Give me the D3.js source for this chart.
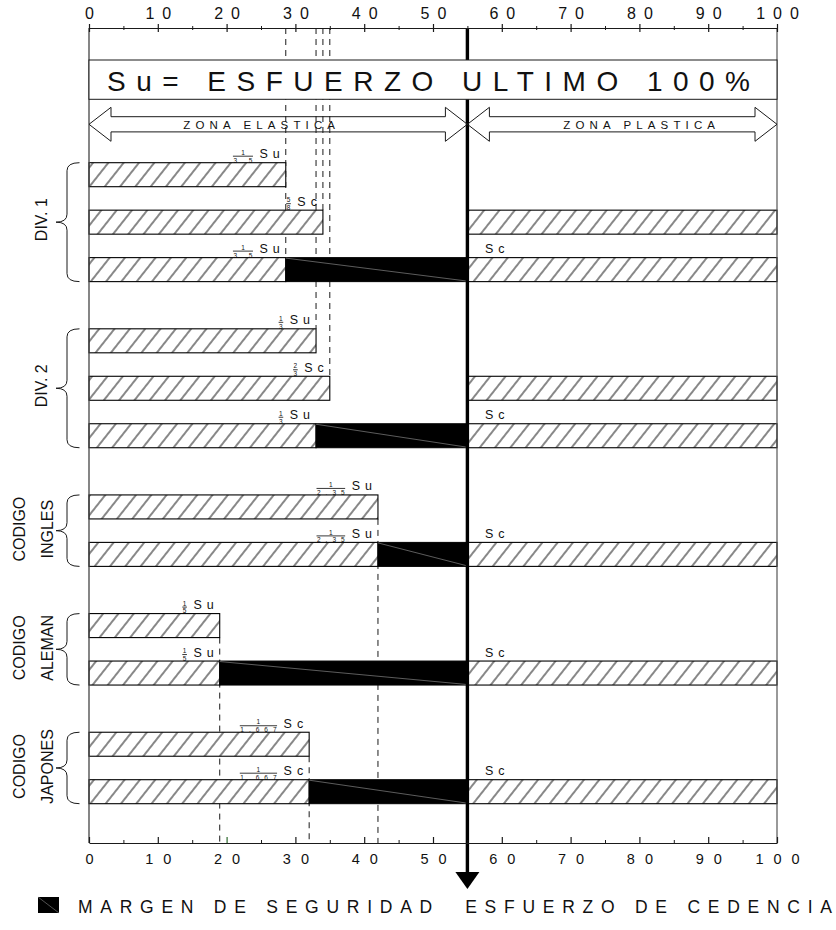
<!DOCTYPE html>
<html><head><meta charset="utf-8">
<script src="https://cdn.jsdelivr.net/npm/d3@7"></script>
<style>
body{margin:0;background:#fff}
svg{display:block}
text{font-family:"Liberation Sans",Arial,sans-serif;fill:#111}
</style>
</head><body>
<svg id="c" width="836" height="930"></svg>
<script>
// ---------------- DATA ----------------
const groupLine1 = ["DIV. 1","DIV. 2","CODIGO","CODIGO","CODIGO"];
const groupLine2 = ["","","INGLES","ALEMAN","JAPONES"];
const barGroup   = [0,0,0, 1,1,1, 2,2, 3,3, 4,4];
const barValue   = [28.6,34,28.6, 33,35,33, 42,42, 19,19, 32,32];
const barNum     = ["1","5","1", "1","2","1", "1","1", "1","1", "1","1"];
const barDen     = ["3.5","8","3.5", "3","3","3", "2.35","2.35", "5","5", "1.667","1.667"];
const barUnit    = ["Su","Sc","Su", "Su","Sc","Su", "Su","Su", "Su","Su", "Sc","Sc"];
const barMargin  = [false,false,true, false,false,true, false,true, false,true, false,true];
const barPlastic = [false,true,true, false,true,true, false,true, false,true, false,true];
const upperGuideBars = [2,1,3,4];
const lowerGuideBars = [6,8,10];
const yieldValue = 55;
const ultimateValue = 100;
const axisTicks  = [0,10,20,30,40,50,60,70,80,90,100];
const minorTicks = [5,15,25,35,45,55,65,75,85,95];
const titleText  = "Su= ESFUERZO ULTIMO 100%";
const zoneLabels = ["ZONA ELASTICA","ZONA PLASTICA"];
const plasticUnit = "Sc";
const legendText = "MARGEN DE SEGURIDAD  ESFUERZO DE CEDENCIA";

// ---------------- LAYOUT ----------------
const svg = d3.select("#c");
const x = d3.scaleLinear().domain([0, ultimateValue]).range([89, 777]);
const slotOf = i => i + 0.5 * barGroup[i];
const y = d3.scaleLinear().domain([0, 13]).range([162.7, 779.7]);
const barH = 24;
const axisTopY = 28, axisBotY = 843;
const titleTop = 60, titleBot = 99.3;
const ink = "#1a1a1a";

const defs = svg.append("defs");
const pat = defs.append("pattern").attr("id","hatch").attr("patternUnits","userSpaceOnUse")
  .attr("width",12).attr("height",12).attr("patternTransform","rotate(38.4)");
pat.append("rect").attr("width",12).attr("height",12).attr("fill","#fff");
pat.append("line").attr("x1",6).attr("y1",-1).attr("x2",6).attr("y2",13)
  .attr("stroke","#111").attr("stroke-width",1);

// guides (dashed)
const gGuide = svg.append("g").attr("stroke",ink).attr("stroke-width",1).attr("stroke-dasharray","6,5");
upperGuideBars.forEach(b => {
  gGuide.append("line").attr("x1",x(barValue[b])).attr("x2",x(barValue[b]))
    .attr("y1",axisTopY).attr("y2",y(slotOf(b)));
});
lowerGuideBars.forEach(b => {
  gGuide.append("line").attr("x1",x(barValue[b])).attr("x2",x(barValue[b]))
    .attr("y1",y(slotOf(b))+barH).attr("y2",axisBotY);
});

// bars
const gBars = svg.append("g");
barValue.forEach((v,i) => {
  const top = y(slotOf(i));
  gBars.append("rect").attr("x",x(0)).attr("y",top).attr("width",x(v)-x(0)).attr("height",barH)
    .attr("fill","url(#hatch)").attr("stroke","#000").attr("stroke-width",1.1);
  if (barMargin[i]) {
    gBars.append("rect").attr("x",x(v)).attr("y",top).attr("width",x(yieldValue)-x(v)).attr("height",barH)
      .attr("fill","#000").attr("stroke","#000").attr("stroke-width",1);
    gBars.append("line").attr("x1",x(v)).attr("y1",top+0.5).attr("x2",x(yieldValue)).attr("y2",top+barH-0.5)
      .attr("stroke","#9a9a9a").attr("stroke-width",0.6);
  }
  if (barPlastic[i]) {
    gBars.append("rect").attr("x",x(yieldValue)).attr("y",top).attr("width",x(ultimateValue)-x(yieldValue)).attr("height",barH)
      .attr("fill","url(#hatch)").attr("stroke","#000").attr("stroke-width",1.1);
  }
});

// frame verticals
svg.append("line").attr("x1",x(0)).attr("x2",x(0)).attr("y1",axisTopY).attr("y2",axisBotY).attr("stroke","#444").attr("stroke-width",1.3);
svg.append("line").attr("x1",x(ultimateValue)).attr("x2",x(ultimateValue)).attr("y1",axisTopY).attr("y2",axisBotY).attr("stroke","#555").attr("stroke-width",1.2);

// thick yield line + arrow
const xy = x(yieldValue);
svg.append("line").attr("x1",xy).attr("x2",xy).attr("y1",axisTopY).attr("y2",876).attr("stroke","#000").attr("stroke-width",3.4);
svg.append("path").attr("d",`M${xy-12},872 L${xy+12},872 L${xy},889 Z`).attr("fill","#000");

// title box
svg.append("rect").attr("x",x(0)).attr("y",titleTop).attr("width",x(ultimateValue)-x(0)).attr("height",titleBot-titleTop)
  .attr("fill","#fff").attr("stroke",ink).attr("stroke-width",1);
svg.append("text").attr("x",107).attr("y",90.7).attr("font-size",28)
  .attr("textLength",643).attr("lengthAdjust","spacing").text(titleText);

// zone arrows
function dblArrow(xa, xb, cy, hl=22, hh=17, sh=7.6){
  return `M${xa},${cy} L${xa+hl},${cy-hh} L${xa+hl},${cy-sh} L${xb-hl},${cy-sh} L${xb-hl},${cy-hh} L${xb},${cy} L${xb-hl},${cy+hh} L${xb-hl},${cy+sh} L${xa+hl},${cy+sh} L${xa+hl},${cy+hh} Z`;
}
const zones = [[0, yieldValue],[yieldValue, ultimateValue]];
const zoneText = [[183.3,151.7],[563.3,151.7]];
zones.forEach((z,k) => {
  svg.append("path").attr("d",dblArrow(x(z[0]), x(z[1]), 124.3)).attr("fill","none").attr("stroke",ink).attr("stroke-width",1);
  svg.append("text").attr("x",zoneText[k][0]).attr("y",128.5).attr("font-size",11.5).attr("fill","#333")
    .attr("textLength",zoneText[k][1]).attr("lengthAdjust","spacing").text(zoneLabels[k]);
});

// axes
const fam = '"Liberation Sans",Arial,sans-serif';
const gTop = svg.append("g").attr("transform",`translate(0,${axisTopY})`)
  .call(d3.axisTop(x).tickValues(axisTicks).tickSize(4).tickSizeOuter(0).tickFormat(d3.format("d")));
gTop.attr("font-size",16).attr("font-family",fam);
gTop.select(".domain").attr("stroke",ink);
gTop.selectAll(".tick line").attr("y1",4).attr("y2",-4).attr("stroke",ink).attr("stroke-width",1.2);
gTop.selectAll(".tick text").attr("y",-9).attr("dx",4).attr("letter-spacing",8).attr("fill","#111");
const gTopM = svg.append("g").attr("transform",`translate(0,${axisTopY})`)
  .call(d3.axisTop(x).tickValues(minorTicks).tickSize(2).tickFormat(""));
gTopM.select(".domain").remove();
gTopM.selectAll(".tick line").attr("y1",2).attr("y2",-2).attr("stroke",ink);

const gBot = svg.append("g").attr("transform",`translate(0,${axisBotY})`)
  .call(d3.axisBottom(x).tickValues(axisTicks).tickSize(6).tickSizeOuter(0).tickFormat(d3.format("d")));
gBot.attr("font-size",14.5).attr("font-family",fam);
gBot.select(".domain").attr("stroke",ink);
gBot.selectAll(".tick line").attr("y1",0).attr("y2",-6).attr("stroke",d => d === 20 ? "#2f6b2f" : ink).attr("stroke-width",1.2);
gBot.selectAll(".tick text").attr("y",20.5).attr("dy",0).attr("dx",5).attr("letter-spacing",10).attr("fill","#111");
const gBotM = svg.append("g").attr("transform",`translate(0,${axisBotY})`)
  .call(d3.axisBottom(x).tickValues(minorTicks).tickSize(3).tickFormat(""));
gBotM.select(".domain").remove();
gBotM.selectAll(".tick line").attr("y1",0).attr("y2",-3).attr("stroke",ink);

// bar labels (stacked fractions)
const gLab = svg.append("g");
const uls = 5, dls = 5, fs = 6.5;
barValue.forEach((v,i) => {
  const top = y(slotOf(i)), xe = x(v), B = top - 4.5;
  const u = gLab.append("text").attr("x",xe - 6 + uls).attr("y",B).attr("text-anchor","end")
    .attr("font-size",12.5).attr("letter-spacing",uls).text(barUnit[i]);
  const ub = u.node().getBBox();
  const dRight = ub.x - 7;
  const den = gLab.append("text").attr("font-size",fs).attr("fill","#222")
    .attr("x",dRight + dls).attr("y",B+4.4).attr("text-anchor","end")
    .attr("letter-spacing",dls).text(barDen[i]);
  const db = den.node().getBBox();
  const l0 = db.x - 0.5, l1 = db.x + db.width - dls + 0.5;
  gLab.append("text").attr("font-size",fs).attr("fill","#222")
    .attr("x",(l0+l1)/2).attr("y",B-3.3).attr("text-anchor","middle").text(barNum[i]);
  gLab.append("line").attr("x1",l0).attr("x2",l1).attr("y1",B-2).attr("y2",B-2).attr("stroke","#222").attr("stroke-width",0.9);
  if (barMargin[i]) {
    gLab.append("text").attr("x",485).attr("y",B).attr("font-size",12.5).attr("letter-spacing",uls).text(plasticUnit);
  }
});

// group labels + braces
const gGrp = svg.append("g");
groupLine1.forEach((t,g) => {
  const idx = barGroup.map((bg,i)=>bg===g?i:-1).filter(i=>i>=0);
  const y0 = y(slotOf(idx[0])), y1 = y(slotOf(idx[idx.length-1])) + barH;
  const ym = (y0+y1)/2;
  const xe = 79.5, xs = 67, xt = 56, r = 8;
  gGrp.append("path").attr("d",
    `M${xe},${y0} Q${xs},${y0} ${xs},${y0+r} L${xs},${ym-r} Q${xs},${ym} ${xt},${ym} Q${xs},${ym} ${xs},${ym+r} L${xs},${y1-r} Q${xs},${y1} ${xe},${y1}`)
    .attr("fill","none").attr("stroke",ink).attr("stroke-width",1);
  if (groupLine2[g]) {
    gGrp.append("text").attr("transform",`translate(25,${ym-1.5}) rotate(-90)`).attr("text-anchor","middle").attr("font-size",16).text(t);
    gGrp.append("text").attr("transform",`translate(53,${ym-1.5}) rotate(-90)`).attr("text-anchor","middle").attr("font-size",16).text(groupLine2[g]);
  } else {
    gGrp.append("text").attr("transform",`translate(47,${ym-2.5}) rotate(-90)`).attr("text-anchor","middle").attr("font-size",16).text(t);
  }
});

// legend
svg.append("rect").attr("x",38).attr("y",897).attr("width",21).attr("height",16).attr("fill","#000");
svg.append("line").attr("x1",38).attr("y1",897).attr("x2",59).attr("y2",913).attr("stroke","#888").attr("stroke-width",0.6);
svg.append("text").attr("x",78).attr("y",913).attr("font-size",17.5).style("white-space","pre")
  .attr("textLength",754).attr("lengthAdjust","spacing").text(legendText);
</script>
</body></html>
